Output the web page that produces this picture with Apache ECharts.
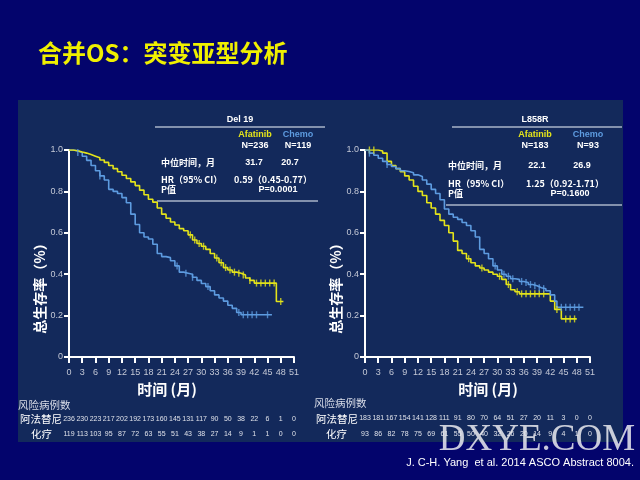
<!DOCTYPE html>
<html><head><meta charset="utf-8">
<script src="https://cdn.jsdelivr.net/npm/echarts@6/dist/echarts.min.js"></script>
<style>html,body{margin:0;padding:0;background:#03046c;}#c{width:640px;height:480px;}</style>
</head><body><div id="c"></div>
<script>
// ---------- data ----------
const xTicks = [0,3,6,9,12,15,18,21,24,27,30,33,36,39,42,45,48,51];

const delAfaT = [0,1,2,3,4,5,6,7,8,9,10,11,12,13,14,15,16,17,18,19,20,21,22,23,24,25,26,27,28,29,30,31,32,33,34,35,36,37,38,39,40,41,42,47,48.6];
const delAfaS = [1.0,0.996,0.99,0.985,0.978,0.97,0.962,0.952,0.94,0.925,0.91,0.895,0.878,0.862,0.846,0.828,0.806,0.784,0.762,0.748,0.72,0.69,0.67,0.652,0.638,0.62,0.61,0.59,0.565,0.548,0.535,0.52,0.5,0.478,0.455,0.432,0.42,0.41,0.405,0.396,0.382,0.37,0.357,0.268,0.268];
const delAfaCens = [27.5,28.5,29.5,30.5,33.5,34.5,35.5,36.5,37.5,38.5,39.5,41,42.5,43.5,44.5,45.5,46.5,48];

const delChT = [0,1,2,3,4,5,6,7,8,9,10,11,12,13,14,15,16,17,18,19,20,21,22,23,24,25,26,27,28,29,30,31,32,33,34,35,36,37,38,39,46];
const delChS = [1.0,0.995,0.988,0.97,0.95,0.925,0.9,0.875,0.855,0.81,0.8,0.79,0.77,0.745,0.69,0.64,0.6,0.58,0.57,0.545,0.5,0.485,0.48,0.465,0.44,0.41,0.405,0.4,0.385,0.37,0.355,0.34,0.32,0.3,0.285,0.27,0.25,0.235,0.215,0.204,0.204];
const delChCens = [2,7,24.5,26.5,28,31.5,38.5,39.5,40.5,41.5,42.5,45];

const l8AfaT = [0,3,4,5,6,7,8,9,10,11,12,13,14,15,16,17,18,19,20,21,22,23,24,25,26,27,28,29,30,31,32,33,34,35,41.5,42,43,44.5,48];
const l8AfaS = [1.0,0.995,0.985,0.945,0.925,0.91,0.895,0.875,0.855,0.825,0.8,0.78,0.745,0.72,0.69,0.66,0.635,0.6,0.56,0.515,0.5,0.475,0.455,0.44,0.43,0.42,0.41,0.4,0.39,0.375,0.35,0.325,0.315,0.305,0.305,0.27,0.23,0.184,0.184];
const l8AfaCens = [1,2,23.5,26.5,30.5,32.5,34.5,35.5,36.5,37.5,38.5,39.5,40.5,43.5,45.5,46.5,47.5];

const l8ChT = [0,1,2,3,4,5,6,7,8,9,10,11,12,13,14,15,16,17,18,19,20,21,22,23,24,25,26,27,28,29,30,31,32,33,34,35,36,37,38,39,40,41,42,43,43.5,49.5];
const l8ChS = [1.0,0.985,0.975,0.96,0.945,0.93,0.92,0.91,0.9,0.896,0.89,0.88,0.872,0.855,0.835,0.81,0.79,0.76,0.715,0.69,0.675,0.665,0.65,0.635,0.61,0.58,0.52,0.5,0.475,0.44,0.42,0.4,0.39,0.378,0.375,0.365,0.36,0.35,0.344,0.335,0.33,0.32,0.3,0.27,0.24,0.24];
const l8ChCens = [1,5,29.5,31.5,32.5,33.5,35.5,36.5,37.5,38.5,39.5,40.5,44.5,45.5,46.5,47.5,48.5];

const riskDelAfa = [236,230,223,217,202,192,173,160,145,131,117,90,50,38,22,6,1,0];
const riskDelCh  = [119,113,103,95,87,72,63,55,51,43,38,27,14,9,1,1,0,0];
const riskL8Afa  = [183,181,167,154,141,128,111,91,80,70,64,51,27,20,11,3,0,0];
const riskL8Ch   = [93,86,82,78,75,69,61,55,50,40,32,26,20,14,9,4,1,0];

// ---------- helpers ----------
const YEL = '#e4e41a', BLU = '#5d9be0';
function pairs(t,s){ return t.map((v,i)=>[v,s[i]]); }
function survAt(t,s,x){ let v=s[0]; for(let i=0;i<t.length;i++){ if(t[i]<=x) v=s[i]; } return v; }
function cens(t,s,c){ return c.map(x=>[x, survAt(t,s,x)]); }
const CJK = '"Noto Sans CJK SC", sans-serif';
const LAT = '"Liberation Sans", Arial, sans-serif';

function xAx(i){ return { type:'value', gridIndex:i, min:0, max:51, interval:3,
  axisLine:{show:true, lineStyle:{color:'#ffffff', width:2}},
  axisTick:{show:true, length:6, inside:false, lineStyle:{color:'#ffffff', width:2}},
  axisLabel:{color:'#c4c8d6', fontSize:9, fontFamily:LAT, margin:11},
  splitLine:{show:false} }; }
function yAx(i){ return { type:'value', gridIndex:i, min:0, max:1, interval:0.2,
  axisLine:{show:true, lineStyle:{color:'#ffffff', width:2}},
  axisTick:{show:true, length:5, inside:false, lineStyle:{color:'#ffffff', width:2}},
  axisLabel:{color:'#c4c8d6', fontSize:9, fontFamily:LAT, margin:6,
    formatter:v=> v===0?'0':v.toFixed(1)},
  splitLine:{show:false} }; }
function curve(i,t,s,col){ return {type:'line', xAxisIndex:i, yAxisIndex:i, step:'end', data:pairs(t,s),
  showSymbol:false, lineStyle:{color:col, width:1.6}, silent:true, z:3}; }
function censor(i,t,s,c,col){ return {type:'scatter', xAxisIndex:i, yAxisIndex:i, data:cens(t,s,c),
  symbol:'rect', symbolSize:[1.4,7], itemStyle:{color:col}, silent:true, z:4}; }

const chart = echarts.init(document.getElementById('c'), null, {renderer:'canvas'});
chart.setOption({
  animation:false,
  backgroundColor:'#03046c',
  grid:[{left:69, right:346, top:150, bottom:123},{left:365, right:50, top:150, bottom:123}],
  xAxis:[xAx(0), xAx(1)],
  yAxis:[yAx(0), yAx(1)],
  series:[
    curve(0,delChT,delChS,BLU), curve(0,delAfaT,delAfaS,YEL),
    censor(0,delChT,delChS,delChCens,BLU), censor(0,delAfaT,delAfaS,delAfaCens,YEL),
    curve(1,l8AfaT,l8AfaS,YEL), curve(1,l8ChT,l8ChS,BLU),
    censor(1,l8AfaT,l8AfaS,l8AfaCens,YEL), censor(1,l8ChT,l8ChS,l8ChCens,BLU)
  ]
});

function txt(x,y,s,o){ o=o||{}; return {type:'text', x:x, y:y, z:o.z||10, style:{text:s, fill:o.fill||'#ffffff',
  font:(o.bold===false?'':'bold ')+(o.size||9)+'px '+(o.fam||LAT), textAlign:o.align||'left', textVerticalAlign:'middle', opacity:o.op==null?1:o.op}}; }
function hline(x1,x2,y,col){ return {type:'line', z:10, shape:{x1:x1,y1:y,x2:x2,y2:y}, style:{stroke:col||'#aab4c8', lineWidth:1.5}}; }

const g = [];
g.push({type:'rect', z:-10, shape:{x:18,y:100,width:605,height:342}, style:{fill:'#13295b'}});
g.push(txt(38,53,'合并OS：突变亚型分析',{fill:'#f0f000',size:24,fam:CJK}));

// Del 19 table
g.push(txt(240,120,'Del 19',{align:'center'}));
g.push(hline(155,325,127));
g.push(txt(255,135,'Afatinib',{fill:YEL,align:'center'}));
g.push(txt(298,135,'Chemo',{fill:BLU,align:'center'}));
g.push(txt(255,146,'N=236',{align:'center'}));
g.push(txt(298,146,'N=119',{align:'center'}));
g.push(txt(161,163,'中位时间，月',{fam:CJK}));
g.push(txt(254,163,'31.7',{align:'center'}));
g.push(txt(290,163,'20.7',{align:'center'}));
g.push(txt(161,180,'HR（95% CI）',{fam:CJK}));
g.push(txt(234,180,'0.59（0.45-0.77）',{fam:CJK}));
g.push(txt(161,190,'P值',{fam:CJK}));
g.push(txt(278,190,'P=0.0001',{align:'center'}));
g.push(hline(157,318,201));

// L858R table
g.push(txt(535,120,'L858R',{align:'center'}));
g.push(hline(452,622,127));
g.push(txt(535,135,'Afatinib',{fill:YEL,align:'center'}));
g.push(txt(588,135,'Chemo',{fill:BLU,align:'center'}));
g.push(txt(535,146,'N=183',{align:'center'}));
g.push(txt(588,146,'N=93',{align:'center'}));
g.push(txt(448,166,'中位时间，月',{fam:CJK}));
g.push(txt(537,166,'22.1',{align:'center'}));
g.push(txt(582,166,'26.9',{align:'center'}));
g.push(txt(448,184,'HR（95% CI）',{fam:CJK}));
g.push(txt(526,184,'1.25（0.92-1.71）',{fam:CJK}));
g.push(txt(448,194,'P值',{fam:CJK}));
g.push(txt(570,194,'P=0.1600',{align:'center'}));
g.push(hline(446,622,205));

// axis names
[[40,285],[336,285]].forEach(p=>{
  g.push({type:'text', x:p[0], y:p[1], rotation:Math.PI/2, z:10, style:{text:'总生存率（%）', fill:'#ffffff',
    font:'bold 14px '+CJK, textAlign:'center', textVerticalAlign:'middle'}});
});
g.push(txt(167,389,'时间 (月)',{size:15,fam:CJK,align:'center'}));
g.push(txt(488,389,'时间 (月)',{size:15,fam:CJK,align:'center'}));

// risk tables
g.push(txt(18,405,'风险病例数',{size:10.5,fam:CJK,bold:false,fill:'#d8dce8'}));
g.push(txt(20,419,'阿法替尼',{size:10.5,fam:CJK,bold:false}));
g.push(txt(31,434,'化疗',{size:10.5,fam:CJK,bold:false}));
g.push(txt(314,403,'风险病例数',{size:10.5,fam:CJK,bold:false,fill:'#d8dce8'}));
g.push(txt(316,419,'阿法替尼',{size:10.5,fam:CJK,bold:false}));
g.push(txt(326,434,'化疗',{size:10.5,fam:CJK,bold:false}));
function riskRow(axis, vals, y){
  xTicks.forEach((t,i)=>{
    const px = chart.convertToPixel({xAxisIndex:axis}, t);
    g.push(txt(px, y, String(vals[i]), {size:7, bold:false, align:'center', fill:'#dfe2ea'}));
  });
}
riskRow(0, riskDelAfa, 419); riskRow(0, riskDelCh, 434);
riskRow(1, riskL8Afa, 418); riskRow(1, riskL8Ch, 434);

// watermark + footnote
g.push({type:'text', x:537, y:440, z:20, style:{text:'DXYE.COM', fill:'rgba(235,235,240,0.85)',
  font:'37px "Liberation Serif", "DejaVu Serif", serif', textAlign:'center', textVerticalAlign:'middle',
  shadowColor:'rgba(0,0,0,0.6)', shadowBlur:3, shadowOffsetX:1, shadowOffsetY:1}});
g.push(txt(634,463,'J. C-H. Yang  et al. 2014 ASCO Abstract 8004.',{size:11,bold:false,align:'right',z:21}));

chart.setOption({graphic:g});
</script></body></html>
